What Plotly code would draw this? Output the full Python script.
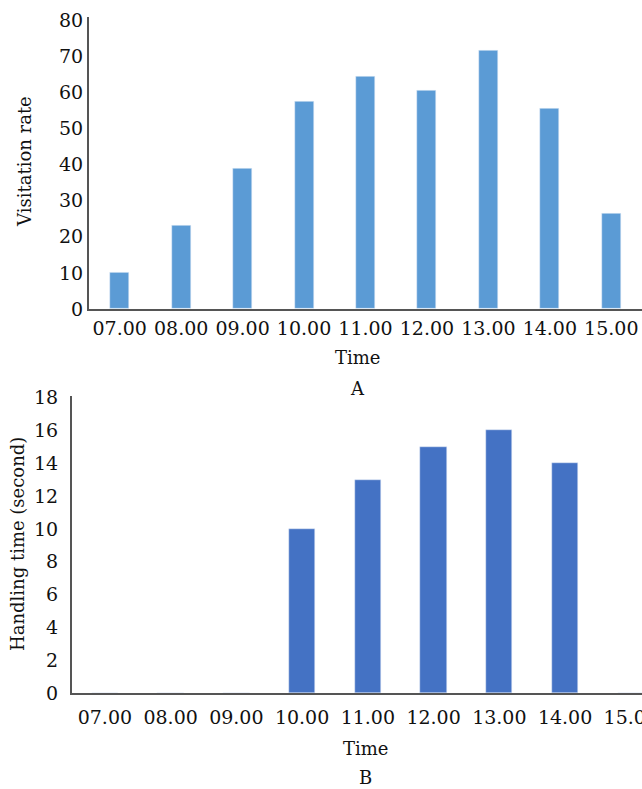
import plotly.graph_objects as go

times = ["07.00", "08.00", "09.00", "10.00", "11.00", "12.00", "13.00", "14.00", "15.00"]
visitation_rate = [10, 23, 39, 57.5, 64.5, 60.5, 71.5, 55.5, 26.5]
handling_time = [0, 0, 0, 10, 13, 15, 16, 14, 0]

W, H = 642, 789
FONT = "DejaVu Serif"
TXT = "#111111"
AXC = "#555555"

def px_x(p):
    return p / W

def px_y(p):
    return 1 - p / H

fig = go.Figure()
fig.add_trace(go.Bar(x=times, y=visitation_rate, marker_color="#5B9BD5",
                     width=0.31, xaxis="x", yaxis="y", showlegend=False))
fig.add_trace(go.Bar(x=times, y=handling_time, marker_color="#4472C4",
                     width=0.40, xaxis="x2", yaxis="y2", showlegend=False))

common_x = dict(type="category", showgrid=False, zeroline=False, showline=True,
                linecolor=AXC, linewidth=2, ticks="", automargin=False,
                tickfont=dict(family=FONT, size=19, color=TXT), fixedrange=True)
common_y = dict(showgrid=False, zeroline=False, showline=True, linecolor=AXC,
                linewidth=2, ticks="", automargin=False,
                tickfont=dict(family=FONT, size=19, color=TXT))

fig.update_layout(
    width=W, height=H,
    margin=dict(l=0, r=0, t=0, b=0, autoexpand=False),
    plot_bgcolor="white", paper_bgcolor="white",
    bargap=0,
    xaxis=dict(common_x, domain=[px_x(89), 1.0], range=[-0.5, 8.5], anchor="y",
               ticklabelstandoff=1),
    yaxis=dict(common_y, domain=[px_y(309), px_y(16.6)], range=[0, 81],
               tickvals=[0, 10, 20, 30, 40, 50, 60, 70, 80], anchor="x",
               ticklabelstandoff=0),
    xaxis2=dict(common_x, domain=[px_x(72), 1.0], range=[-0.5, 8.17], anchor="y2",
                ticklabelstandoff=6),
    yaxis2=dict(common_y, domain=[px_y(693), px_y(396)], range=[0, 18.1],
                tickvals=[0, 2, 4, 6, 8, 10, 12, 14, 16, 18], anchor="x2",
                ticklabelstandoff=8),
    annotations=[
        dict(text="Visitation rate", x=px_x(25), y=px_y(162), xref="paper", yref="paper",
             textangle=-90, showarrow=False, xanchor="center", yanchor="middle",
             font=dict(family=FONT, size=18, color=TXT)),
        dict(text="Time", x=px_x(357), y=px_y(357), xref="paper", yref="paper",
             showarrow=False, xanchor="center", yanchor="middle",
             font=dict(family=FONT, size=18, color=TXT)),
        dict(text="A", x=px_x(357), y=px_y(389), xref="paper", yref="paper",
             showarrow=False, xanchor="center", yanchor="middle",
             font=dict(family=FONT, size=18, color=TXT)),
        dict(text="Handling time (second)", x=px_x(17), y=px_y(544), xref="paper", yref="paper",
             textangle=-90, showarrow=False, xanchor="center", yanchor="middle",
             font=dict(family=FONT, size=18, color=TXT)),
        dict(text="Time", x=px_x(365), y=px_y(748), xref="paper", yref="paper",
             showarrow=False, xanchor="center", yanchor="middle",
             font=dict(family=FONT, size=18, color=TXT)),
        dict(text="B", x=px_x(365), y=px_y(777), xref="paper", yref="paper",
             showarrow=False, xanchor="center", yanchor="middle",
             font=dict(family=FONT, size=18, color=TXT)),
    ],
)

# remove the default page margin so the 642x789 figure fills the window exactly
fig.write_html("out.html",
               config={"displayModeBar": False},
               post_script="document.body.style.margin='0';document.body.style.overflow='hidden';")
